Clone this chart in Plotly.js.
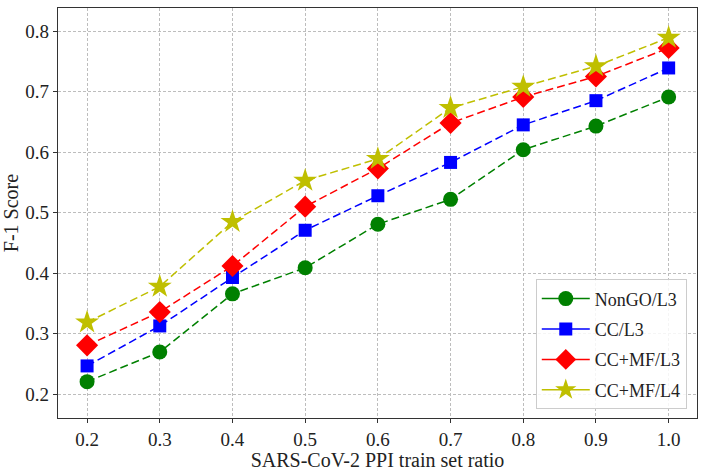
<!DOCTYPE html>
<html>
<head>
<meta charset="utf-8">
<script src="https://cdn.plot.ly/plotly-3.0.1.min.js"></script>
<style>
  html, body { margin: 0; padding: 0; background: #fff; }
  #chart { width: 706px; height: 471px; }
</style>
</head>
<body>
<div id="chart"></div>
<script>
// train set ratios on the x axis
const ratios = [0.2, 0.3, 0.4, 0.5, 0.6, 0.7, 0.8, 0.9, 1.0];
const xTickLabels = ['0.2', '0.3', '0.4', '0.5', '0.6', '0.7', '0.8', '0.9', '1.0'];
const yTicks = [0.2, 0.3, 0.4, 0.5, 0.6, 0.7, 0.8];
const yTickLabels = ['0.2', '0.3', '0.4', '0.5', '0.6', '0.7', '0.8'];

// F-1 scores per model
const nonGoL3 = [0.221, 0.270, 0.366, 0.409, 0.481, 0.522, 0.604, 0.643, 0.691];
const ccL3 = [0.247, 0.313, 0.393, 0.471, 0.528, 0.583, 0.645, 0.685, 0.739];
const ccMfL3 = [0.281, 0.336, 0.412, 0.510, 0.573, 0.648, 0.691, 0.725, 0.772];
const ccMfL4 = [0.319, 0.378, 0.485, 0.553, 0.589, 0.673, 0.708, 0.742, 0.789];

const seriesNames = ['NonGO/L3', 'CC/L3', 'CC+MF/L3', 'CC+MF/L4'];

const FONT = "'Liberation Serif', 'DejaVu Serif', serif";
const TEXT = '#222222';

const styles = [
    { color: '#008000', symbol: 'circle', size: 15 },
    { color: '#0000ff', symbol: 'square', size: 13 },
    { color: '#ff0000', symbol: 'diamond', size: 17 },
    { color: '#bfbf00', symbol: 'star', size: 18 }
];

function makeTrace(name, y, st) {
    return {
        type: 'scatter',
        mode: 'lines+markers',
        name: name,
        legendgroup: name,
        showlegend: false,
        x: ratios,
        y: y,
        line: { color: st.color, width: 1.5, dash: '8px,4px' },
        marker: { color: st.color, symbol: st.symbol, size: st.size, line: { width: 0 } }
    };
}

// legend entries use a solid line, like the matplotlib handles
function legendEntry(name, st) {
    return {
        type: 'scatter',
        mode: 'lines+markers',
        name: name,
        legendgroup: name,
        x: [null],
        y: [null],
        line: { color: st.color, width: 1.5 },
        marker: { color: st.color, symbol: st.symbol, size: st.size, line: { width: 0 } }
    };
}

const seriesValues = [nonGoL3, ccL3, ccMfL3, ccMfL4];
const traces = seriesValues.map((y, i) => makeTrace(seriesNames[i], y, styles[i]))
    .concat(seriesNames.map((n, i) => legendEntry(n, styles[i])));

const axisCommon = {
    showline: true,
    mirror: true,
    linecolor: '#333333',
    linewidth: 1.2,
    showgrid: true,
    gridcolor: '#bdbdbd',
    gridwidth: 0.8,
    griddash: '3px,2px',
    zeroline: false,
    ticks: 'outside',
    ticklen: 4,
    tickcolor: '#333333',
    tickfont: { family: FONT, size: 19, color: TEXT }
};

const layout = {
    width: 706,
    height: 471,
    margin: { l: 58, r: 9, t: 8, b: 53 },
    paper_bgcolor: '#ffffff',
    plot_bgcolor: '#ffffff',
    font: { family: FONT, size: 17, color: TEXT },
    showlegend: true,
    legend: {
        x: 0.984,
        y: 0.021,
        xanchor: 'right',
        yanchor: 'bottom',
        bgcolor: 'rgba(255,255,255,0.85)',
        bordercolor: '#cccccc',
        borderwidth: 1,
        font: { family: FONT, size: 18, color: TEXT },
        itemwidth: 48,
        tracegroupgap: 4
    },
    xaxis: {
        ...axisCommon,
        range: [0.16, 1.039],
        tickvals: ratios,
        ticktext: xTickLabels,
        title: { text: 'SARS-CoV-2 PPI train set ratio', font: { family: FONT, size: 20, color: TEXT }, standoff: 2 }
    },
    yaxis: {
        ...axisCommon,
        range: [0.161, 0.838],
        tickvals: yTicks,
        ticktext: yTickLabels,
        title: { text: 'F-1 Score', font: { family: FONT, size: 20, color: TEXT }, standoff: 3 }
    }
};

Plotly.newPlot('chart', traces, layout, { displayModeBar: false, responsive: false });
</script>
</body>
</html>
